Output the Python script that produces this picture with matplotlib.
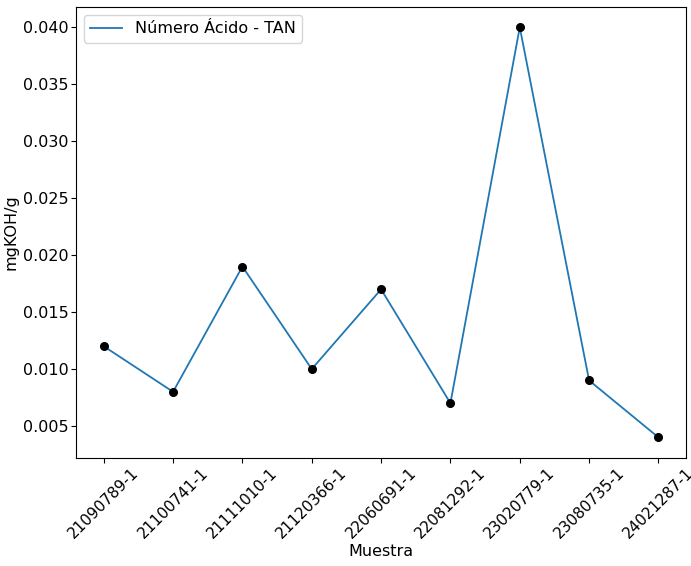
import matplotlib
matplotlib.use("Agg")
import matplotlib.pyplot as plt

muestras = ["21090789-1", "21100741-1", "21111010-1", "21120366-1", "22060691-1",
            "22081292-1", "23020779-1", "23080735-1", "24021287-1"]
tan = [0.012, 0.008, 0.019, 0.010, 0.017, 0.007, 0.040, 0.009, 0.004]

plt.rcParams['font.size'] = 12

fig, ax = plt.subplots(figsize=(6.91, 5.66), dpi=100)
fig.subplots_adjust(left=0.110, right=0.993, bottom=0.191, top=0.988)

ax.plot(muestras, tan, '-', color='tab:blue', lw=1.3, label='Número Ácido - TAN')
ax.plot(muestras, tan, 'o', color='black', markersize=5.5)

ax.set_xlabel('Muestra', fontsize=11.5)
ax.set_ylabel('mgKOH/g', fontsize=11.5)
ax.xaxis.set_label_coords(0.5, -0.19)
ax.yaxis.set_label_coords(-0.095, 0.5)
ax.tick_params(axis='y', labelsize=11.5, length=3.5, pad=2)
ax.tick_params(axis='x', labelsize=11, length=3.5, pad=2, rotation=45)
ax.legend(loc='upper left', fontsize=11.5)

plt.savefig("out.png", dpi=100)
plt.close()
